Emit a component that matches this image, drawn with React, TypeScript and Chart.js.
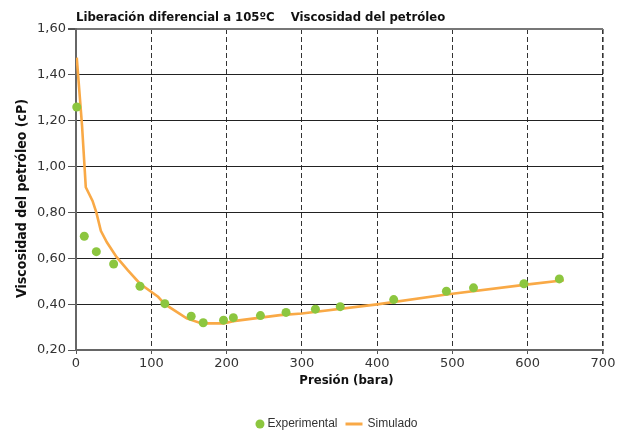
import React, { useEffect, useRef } from "react";
import { Chart, registerables } from "chart.js";

Chart.register(...registerables);

// Medidas de laboratorio (liberación diferencial a 105 ºC)
const presionExperimental = [1, 11, 27, 50, 85, 118, 153, 169, 196, 209, 245, 279, 318, 351, 422, 492, 528, 595, 642];
const viscosidadExperimental = [1.26, 0.696, 0.629, 0.575, 0.478, 0.402, 0.347, 0.319, 0.33, 0.341, 0.35, 0.364, 0.378, 0.389, 0.42, 0.456, 0.471, 0.489, 0.51];

// Resultado del modelo
const presionSimulado = [1, 8, 13, 22, 27, 33, 41, 54, 69, 85, 109, 118, 147, 167, 196, 209, 271, 300, 400, 492, 598, 648];
const viscosidadSimulado = [1.475, 1.18, 0.91, 0.85, 0.8, 0.72, 0.67, 0.605, 0.547, 0.489, 0.432, 0.4, 0.338, 0.316, 0.316, 0.326, 0.352, 0.359, 0.399, 0.442, 0.485, 0.504];

const ejeX = { min: 0, max: 700, paso: 100 };
const ejeY = { min: 0.2, max: 1.6, paso: 0.2 };

const tituloA = "Liberación diferencial a 105ºC";
const tituloB = "Viscosidad del petróleo";
const tituloEjeY = "Viscosidad del petróleo (cP)";
const tituloEjeX = "Presión (bara)";
const nombreExperimental = "Experimental";
const nombreSimulado = "Simulado";

const VERDE = "#8cc63f";
const NARANJA = "#f9a946";
const FUENTE_TITULO = 'bold 13px "DejaVu Sans Condensed", sans-serif';
const FUENTE_EJE_Y = 'bold 14px "DejaVu Sans Condensed", sans-serif';
const FUENTE_TICKS = "DejaVu Sans";
const FUENTE_LEYENDA = '12px "Liberation Sans", Arial, sans-serif';

const textos = {
  id: "textos",
  afterDraw(chart: any) {
    const { ctx, chartArea } = chart;
    const { left, right, top, bottom } = chartArea;
    ctx.save();
    ctx.fillStyle = "#111";
    ctx.font = FUENTE_TITULO;
    ctx.textBaseline = "alphabetic";
    ctx.textAlign = "left";
    ctx.fillText(tituloA, left, 21);
    ctx.fillText(tituloB, left + ctx.measureText(tituloA).width + 16, 21);

    // título del eje X
    ctx.textAlign = "center";
    ctx.textBaseline = "middle";
    ctx.fillText(tituloEjeX, (left + right) / 2 + 7, 381);

    // título del eje Y
    ctx.save();
    ctx.font = FUENTE_EJE_Y;
    ctx.translate(22, (top + bottom) / 2 + 9);
    ctx.rotate(-Math.PI / 2);
    ctx.fillText(tituloEjeY, 0, 0);
    ctx.restore();

    // leyenda
    ctx.font = FUENTE_LEYENDA;
    ctx.textAlign = "left";
    const wA = ctx.measureText(nombreExperimental).width;
    const wB = ctx.measureText(nombreSimulado).width;
    const total = 9 + 3 + wA + 8 + 17 + 5 + wB;
    let x = (left + right) / 2 - 3 - total / 2;
    const y = 424;
    ctx.beginPath();
    ctx.fillStyle = VERDE;
    ctx.arc(x + 4.5, y, 4.5, 0, Math.PI * 2);
    ctx.fill();
    x += 12;
    ctx.fillStyle = "#333";
    ctx.fillText(nombreExperimental, x, y);
    x += wA + 8;
    ctx.beginPath();
    ctx.strokeStyle = NARANJA;
    ctx.lineWidth = 3;
    ctx.moveTo(x, y);
    ctx.lineTo(x + 17, y);
    ctx.stroke();
    x += 22;
    ctx.fillText(nombreSimulado, x, y);
    ctx.restore();
  },
};

export default function App() {
  const ref = useRef<HTMLCanvasElement | null>(null);

  useEffect(() => {
    if (!ref.current) return;
    const chart = new Chart(ref.current, {
      type: "scatter",
      data: {
        datasets: [
          {
            label: nombreExperimental,
            data: presionExperimental.map((p, i) => ({ x: p, y: viscosidadExperimental[i] })),
            backgroundColor: VERDE,
            borderWidth: 0,
            pointRadius: 4.5,
            clip: false,
          },
          {
            label: nombreSimulado,
            data: presionSimulado.map((p, i) => ({ x: p, y: viscosidadSimulado[i] })),
            showLine: true,
            borderColor: NARANJA,
            backgroundColor: NARANJA,
            borderWidth: 2.6,
            pointRadius: 0,
            tension: 0,
          },
        ],
      },
      options: {
        responsive: false,
        animation: false,
        layout: { padding: { top: 29, right: 28, left: 0, bottom: 0 } },
        plugins: { legend: { display: false }, tooltip: { enabled: false } },
        scales: {
          x: {
            type: "linear",
            min: ejeX.min,
            max: ejeX.max,
            afterFit: (s: any) => {
              s.height = 83;
            },
            ticks: {
              stepSize: ejeX.paso,
              color: "#333",
              padding: 2,
              maxRotation: 0,
              font: { family: FUENTE_TICKS, size: 13 },
            },
            grid: {
              color: (c: any) => (c.tick && c.tick.value === ejeX.min ? "rgba(0,0,0,0)" : "#333"),
              lineWidth: (c: any) => (c.tick && c.tick.value === ejeX.max ? 1.6 : 1),
              tickColor: "#555",
              tickLength: 4,
            },
            border: { color: "#666", width: 2, dash: [5, 3] },
          },
          y: {
            type: "linear",
            min: ejeY.min,
            max: ejeY.max,
            afterFit: (s: any) => {
              s.width = 76;
            },
            ticks: {
              stepSize: ejeY.paso,
              color: "#333",
              padding: 2,
              font: { family: FUENTE_TICKS, size: 13 },
              callback: (v: any) => Number(v).toFixed(2).replace(".", ","),
            },
            grid: {
              color: (c: any) => {
                const v = c.tick ? Math.round(c.tick.value * 100) : 0;
                if (v === 20) return "rgba(0,0,0,0)";
                if (v === 160) return "#777";
                return "#222";
              },
              lineWidth: (c: any) => (c.tick && Math.round(c.tick.value * 100) === 160 ? 2 : 1),
              tickColor: "#555",
              tickLength: 8,
            },
            border: { color: "#666", width: 2 },
          },
        },
      },
      plugins: [textos],
    });
    return () => chart.destroy();
  }, []);

  return (
    <div style={{ position: "absolute", left: 0, top: 0, width: 631, height: 433, background: "#fff" }}>
      <canvas ref={ref} width={631} height={433} />
    </div>
  );
}
